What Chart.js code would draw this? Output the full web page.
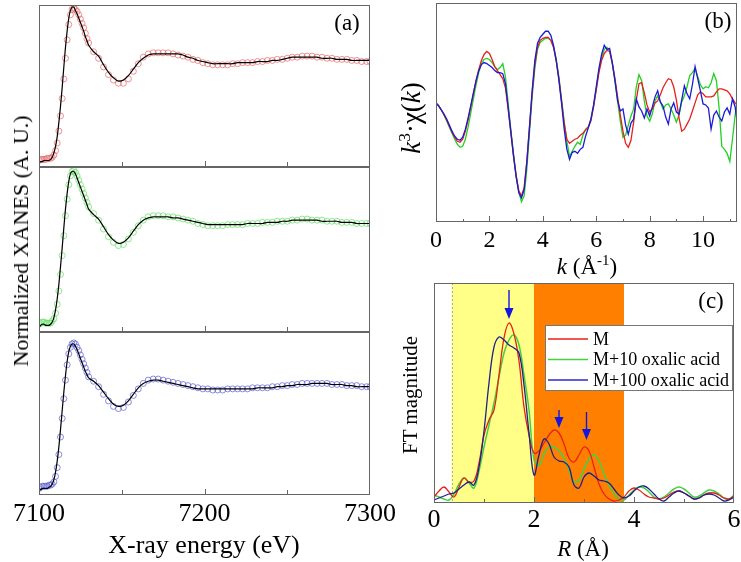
<!DOCTYPE html>
<html>
<head>
<meta charset="utf-8">
<script src="https://cdn.jsdelivr.net/npm/chart.js@4.4.1/dist/chart.umd.min.js"></script>
<style>
  body { margin: 0; background: #fff; }
  #wrap { position: relative; width: 741px; height: 562px; overflow: hidden; font-family: "Liberation Serif", "Times New Roman", serif; color: #000; }
  #wrap canvas { position: absolute; }
  .lbl { position: absolute; white-space: nowrap; transform: translate(-50%, -50%); line-height: 1; }
  .rot { transform: translate(-50%, -50%) rotate(-90deg); }
  sup { font-size: 65%; vertical-align: 0.55em; line-height: 0; }
</style>
</head>
<body>
<div id="wrap">
  <canvas id="a1" width="410" height="172" style="left:0;top:0"></canvas>
  <canvas id="a2" width="410" height="175" style="left:0;top:162px"></canvas>
  <canvas id="a3" width="410" height="235" style="left:0;top:327px"></canvas>
  <canvas id="b" width="341" height="280" style="left:400px;top:0"></canvas>
  <canvas id="c" width="345" height="292" style="left:400px;top:270px"></canvas>

  <div class="lbl" style="left:347px;top:22px;font-size:23px">(a)</div>
  <div class="lbl" style="left:718px;top:20px;font-size:23px">(b)</div>
  <div class="lbl" style="left:711px;top:300px;font-size:23px">(c)</div>
  <div class="lbl" style="left:204px;top:545px;font-size:26px">X-ray energy (eV)</div>
  <div class="lbl rot" style="left:21px;top:241px;font-size:22px">Normalized XANES (A. U.)</div>
  <div class="lbl" style="left:587px;top:266px;font-size:23px"><i>k</i> (Å<sup>-1</sup>)</div>
  <div class="lbl rot" style="left:411px;top:118px;font-size:27px"><i>k</i><sup>3</sup>·χ(<i>k</i>)</div>
  <div class="lbl rot" style="left:410px;top:395px;font-size:21px">FT magnitude</div>
  <div class="lbl" style="left:583px;top:548px;font-size:23px"><i>R</i> (Å)</div>
</div>
<script>
// ---- panel (a): XANES, energy grid (eV)
const energy = [
  7100,7101,7102,7103,7104,7105,7106,7107,7108,7109,
  7110,7111,7112,7113,7114,7115,7116,7117,7118,7119,
  7120,7121,7122,7123,7124,7125,7126,7127,7128,7129,7130,
  7133,7136,7139,7142,7145,7148,7151,7154,7157,7160,
  7163,7166,7169,7172,7175,7178,7181,7184,7187,7190,
  7193,7196,7199,7202,7205,7208,7211,7214,7217,7220,
  7223,7226,7229,7232,7235,7238,7241,7244,7247,7250,
  7253,7256,7259,7262,7265,7268,7271,7274,7277,7280,
  7283,7286,7289,7292,7295,7298,7300
];
const fitM = [
  0.00,0.01,0.01,0.02,0.02,0.02,0.02,0.03,0.05,0.09,
  0.15,0.24,0.37,0.52,0.69,0.88,1.06,1.21,1.33,1.40,
  1.43,1.43,1.40,1.37,1.33,1.29,1.25,1.21,1.16,1.12,1.08,
  1.02,0.98,0.90,0.83,0.78,0.75,0.76,0.80,0.86,0.92,
  0.96,0.99,1.00,1.00,1.00,1.00,1.00,1.00,0.99,0.97,
  0.96,0.94,0.93,0.92,0.91,0.91,0.91,0.91,0.91,0.92,
  0.92,0.92,0.92,0.93,0.93,0.93,0.94,0.94,0.95,0.96,
  0.97,0.97,0.97,0.97,0.97,0.97,0.96,0.96,0.96,0.95,
  0.95,0.95,0.94,0.94,0.94,0.94,0.94
];
const expM = [
  0.02,0.03,0.03,0.03,0.03,0.04,0.04,0.04,0.05,0.07,
  0.11,0.18,0.29,0.43,0.59,0.77,0.96,1.13,1.27,1.36,
  1.41,1.42,1.41,1.39,1.36,1.32,1.28,1.24,1.19,1.14,1.10,
  1.02,0.96,0.88,0.81,0.76,0.73,0.73,0.77,0.84,0.91,
  0.97,1.00,1.01,1.01,1.01,1.01,1.00,0.99,0.98,0.97,
  0.95,0.94,0.92,0.91,0.90,0.90,0.90,0.90,0.91,0.91,
  0.92,0.92,0.92,0.93,0.93,0.94,0.94,0.95,0.95,0.96,
  0.97,0.97,0.98,0.98,0.98,0.97,0.97,0.96,0.96,0.95,
  0.95,0.95,0.94,0.94,0.93,0.93,0.93
];
const fitM10 = [
  0.00,0.02,0.03,0.03,0.02,0.02,0.02,0.03,0.05,0.09,
  0.16,0.26,0.39,0.55,0.72,0.90,1.07,1.21,1.32,1.39,
  1.41,1.41,1.39,1.35,1.31,1.27,1.23,1.19,1.15,1.11,1.07,
  1.02,0.98,0.91,0.84,0.79,0.76,0.77,0.81,0.87,0.93,
  0.97,0.99,1.00,1.00,1.00,1.00,0.99,0.99,0.98,0.97,
  0.96,0.95,0.94,0.93,0.93,0.93,0.93,0.93,0.93,0.93,
  0.93,0.94,0.94,0.94,0.94,0.95,0.95,0.95,0.96,0.96,
  0.97,0.97,0.97,0.97,0.97,0.97,0.96,0.96,0.96,0.96,
  0.95,0.95,0.95,0.94,0.94,0.94,0.94
];
const expM10 = [
  0.03,0.04,0.05,0.05,0.04,0.04,0.04,0.04,0.06,0.08,
  0.13,0.21,0.33,0.48,0.65,0.83,1.01,1.16,1.29,1.37,
  1.41,1.42,1.40,1.37,1.33,1.29,1.25,1.21,1.17,1.13,1.09,
  1.03,0.97,0.89,0.82,0.77,0.74,0.75,0.80,0.86,0.92,
  0.97,1.00,1.01,1.01,1.01,1.00,1.00,0.99,0.98,0.97,
  0.96,0.94,0.93,0.92,0.92,0.92,0.92,0.93,0.93,0.93,
  0.93,0.94,0.94,0.94,0.95,0.95,0.95,0.96,0.96,0.96,
  0.97,0.97,0.98,0.98,0.97,0.97,0.97,0.96,0.96,0.96,
  0.95,0.95,0.95,0.94,0.94,0.94,0.94
];
const fitM100 = [
  0.00,0.01,0.02,0.02,0.02,0.02,0.03,0.04,0.06,0.10,
  0.17,0.27,0.40,0.56,0.73,0.90,1.05,1.18,1.27,1.32,
  1.34,1.34,1.32,1.29,1.25,1.21,1.17,1.13,1.09,1.06,1.03,
  1.00,0.96,0.90,0.84,0.79,0.77,0.78,0.82,0.88,0.94,
  0.98,1.00,1.01,1.01,1.00,0.99,0.98,0.97,0.96,0.95,
  0.94,0.93,0.93,0.93,0.93,0.93,0.93,0.93,0.93,0.93,
  0.93,0.93,0.93,0.94,0.94,0.94,0.94,0.95,0.95,0.96,
  0.96,0.97,0.97,0.97,0.98,0.98,0.98,0.98,0.97,0.97,
  0.97,0.96,0.96,0.95,0.95,0.95,0.95
];
const expM100 = [
  0.02,0.03,0.04,0.04,0.04,0.04,0.05,0.05,0.06,0.08,
  0.13,0.21,0.33,0.49,0.66,0.84,1.01,1.15,1.25,1.31,
  1.34,1.35,1.34,1.31,1.28,1.24,1.20,1.16,1.12,1.08,1.04,
  1.00,0.95,0.88,0.82,0.77,0.75,0.76,0.81,0.87,0.93,
  0.98,1.01,1.02,1.02,1.01,1.00,0.99,0.98,0.97,0.96,
  0.95,0.94,0.93,0.93,0.92,0.92,0.92,0.93,0.93,0.93,
  0.93,0.93,0.94,0.94,0.94,0.94,0.95,0.95,0.96,0.96,
  0.97,0.97,0.98,0.98,0.98,0.98,0.98,0.98,0.97,0.97,
  0.97,0.96,0.96,0.96,0.95,0.95,0.95
];
const energyTickLabels = [7100, 7200, 7300];
const energyTicksMajor = [7200];
const energyTicksMinor = [7150, 7250];

// ---- panel (b): k^3 chi(k), k grid 0..11.3 step 0.1
const kStep = 0.1;
const chiM = [
  0.0,-0.3,-0.7,-1.2,-1.7,-2.3,-2.9,-3.4,-3.8,-3.9,
  -3.6,-2.8,-1.7,-0.4,0.9,2.2,3.3,4.2,4.8,5.1,
  4.9,4.3,3.6,3.2,2.8,2.4,1.5,-0.6,-2.9,-5.2,
  -7.2,-8.7,-9.2,-8.4,-5.8,-2.4,1.0,3.8,5.5,6.2,
  6.4,6.5,6.5,6.2,5.5,4.2,2.4,0.2,-2.0,-3.6,
  -4.0,-3.8,-3.6,-3.5,-3.2,-3.0,-2.7,-2.4,-1.8,-0.4,
  1.3,3.0,4.2,4.9,5.2,5.1,4.0,2.4,0.6,-1.2,
  -2.8,-4.0,-4.4,-3.7,-1.9,0.3,1.9,2.0,1.0,-0.2,
  -0.9,-0.6,0.0,0.2,0.8,1.5,2.0,2.4,2.3,1.6,
  0.3,-1.5,-2.8,-2.6,-2.1,-1.6,-0.8,0.0,0.8,1.1,
  0.9,0.6,0.6,0.6,0.7,1.1,1.4,1.4,1.3,1.2,
  0.9,0.4,0.0,-0.3
];
const chiM10 = [
  0.0,-0.3,-0.7,-1.2,-1.8,-2.4,-3.0,-3.6,-4.1,-4.4,
  -4.3,-3.6,-2.4,-1.0,0.4,1.8,3.0,3.9,4.3,4.4,
  4.3,4.0,3.6,3.3,3.5,3.9,2.6,0.0,-2.6,-5.0,
  -7.2,-8.8,-9.8,-9.2,-6.6,-3.0,0.6,3.4,5.3,6.0,
  6.2,6.4,6.4,6.2,5.6,4.4,2.6,0.4,-1.9,-3.8,
  -5.3,-4.8,-4.3,-3.9,-4.1,-3.2,-2.6,-2.4,-1.6,-0.3,
  1.4,3.2,4.5,5.3,5.5,5.2,3.9,2.2,0.2,-1.8,
  -3.4,-3.2,-2.2,-1.3,-0.6,1.6,2.8,2.2,0.2,-1.3,
  -1.8,-1.1,0.2,0.7,0.1,-0.6,-0.2,-0.1,-0.6,-1.2,
  -1.9,-1.2,0.1,0.7,1.6,2.7,3.0,3.4,2.6,1.8,
  1.4,1.6,1.5,2.0,2.9,2.2,-0.5,-4.3,-4.6,-5.0,
  -5.8,-3.6,-1.2,0.7
];
const chiM100 = [
  0.0,-0.3,-0.7,-1.1,-1.6,-2.2,-2.8,-3.3,-3.6,-3.7,
  -3.4,-2.6,-1.5,-0.3,1.0,2.2,3.2,3.8,4.0,3.9,
  3.7,3.5,3.2,3.0,3.0,2.9,1.9,-0.4,-2.8,-5.2,
  -7.3,-8.9,-9.4,-8.6,-5.9,-2.4,1.2,4.2,5.9,6.5,
  6.8,7.1,7.1,6.7,5.7,4.2,2.3,0.0,-2.6,-4.6,
  -5.6,-4.9,-4.8,-5.0,-4.6,-4.4,-3.3,-2.5,-1.6,-0.2,
  1.6,3.4,4.8,5.7,5.3,5.4,4.0,2.2,0.2,-0.8,
  -0.6,-2.2,-3.1,-2.0,-1.6,0.4,-0.4,-0.8,-1.5,-0.6,
  -1.3,-0.4,0.6,1.2,0.1,-0.3,-1.4,-2.1,-0.6,0.0,
  -0.9,-1.1,0.3,1.7,0.9,0.4,1.8,3.6,2.4,1.2,
  -0.1,-0.2,-0.5,-2.6,-1.2,-0.8,-1.4,-1.8,-0.9,-0.5,
  -1.1,0.4,-0.4,-2.4
];
const kMax = 11.27;
const kTickLabels = [0, 2, 4, 6, 8, 10];
const kTicksMajor = [2, 4, 6, 8, 10];
const kTicksMinor = [1, 3, 5, 7, 9, 11];

// ---- panel (c): FT magnitude, R grid 0..6 step 0.1
const rStep = 0.1;
const ftM = [
  0.6,1.2,1.6,1.1,0.6,1.6,2.5,2.1,2.2,4.0,
  6.8,8.3,9.3,12.8,16.5,18.0,16.9,14.2,9.6,6.8,
  5.0,5.2,6.0,6.8,7.3,7.0,5.9,4.5,4.1,4.8,
  5.6,5.2,3.6,1.9,0.9,0.4,0.2,0.3,0.6,1.2,
  1.5,1.3,0.9,0.6,0.5,0.4,0.5,0.8,1.1,1.2,
  1.0,0.7,0.4,0.5,0.8,1.0,1.0,0.8,0.5,0.4,
  0.7
];
const ftM10 = [
  0.8,0.6,0.4,0.3,0.9,1.9,2.5,2.0,1.5,3.2,
  5.6,7.8,10.0,12.6,15.0,16.3,16.8,15.8,12.8,9.3,
  4.3,3.8,4.9,5.6,5.6,5.2,4.5,3.3,2.1,2.3,
  3.4,4.4,4.8,4.2,2.9,1.8,0.9,0.4,0.3,0.8,
  1.3,1.6,1.5,1.1,0.6,0.4,0.6,1.0,1.4,1.6,
  1.4,1.0,0.6,0.7,1.0,1.3,1.2,0.9,0.5,0.4,
  0.8
];
const ftM100 = [
  0.3,0.5,0.7,0.9,1.0,1.4,1.8,2.1,1.8,3.6,
  7.2,12.0,15.6,16.6,16.3,15.8,15.5,15.0,11.8,7.0,
  2.8,4.8,6.4,5.9,4.6,4.2,4.1,3.6,1.8,1.5,
  2.6,3.0,2.7,2.3,2.2,2.0,1.4,0.8,0.5,0.7,
  1.2,1.6,1.7,1.4,0.9,0.4,0.2,0.6,1.0,1.2,
  1.0,0.7,0.4,0.5,0.8,0.9,0.8,0.5,0.2,0.3,
  0.6
];
const rTickLabels = [0, 2, 4, 6];
const rTicksMajor = [2, 4];
const rTicksMinor = [1, 3, 5];
const shellRanges = [[0.35, 2.0], [2.0, 3.8]];
const arrowR = [1.5, 2.5, 3.05];
const arrowTail = [21.3, 9.3, 9.1];
const arrowTip = [18.4, 7.5, 6.3];
const seriesNames = ['M', 'M+10 oxalic acid', 'M+100 oxalic acid'];

const SERIF = "'Liberation Serif', 'Times New Roman', serif";
Chart.defaults.font.family = SERIF;
Chart.defaults.color = '#000';

function pts(xs, ys) { return ys.map((y, i) => ({ x: xs[i], y })); }
function grid(step, n) { return Array.from({ length: n }, (_, i) => +(i * step).toFixed(2)); }

// frame, inner tick marks, tick labels and shaded R ranges
const framePlugin = {
  id: 'frame',
  beforeDatasetsDraw(chart, args, opts) {
    const { ctx, chartArea: a, scales: { x } } = chart;
    const bands = opts.bands || [];
    ctx.save();
    bands.forEach((b, i) => {
      const x0 = x.getPixelForValue(b[0]), x1 = x.getPixelForValue(b[1]);
      ctx.fillStyle = opts.bandColors[i];
      ctx.fillRect(x0, a.top, x1 - x0, a.height);
      if (i === 0) {
        ctx.setLineDash([2, 2]);
        ctx.strokeStyle = '#aaa';
        ctx.beginPath();
        ctx.moveTo(Math.round(x0) + 0.5, a.top);
        ctx.lineTo(Math.round(x0) + 0.5, a.bottom);
        ctx.stroke();
      }
    });
    ctx.restore();
  },
  afterDatasetsDraw(chart, args, opts) {
    const { ctx, chartArea: a, scales: { x } } = chart;
    ctx.save();
    ctx.strokeStyle = '#666';
    ctx.lineWidth = 1;
    ctx.strokeRect(a.left + 0.5, a.top + 0.5, a.width - 1, a.height - 1);
    ctx.beginPath();
    (opts.major || []).forEach(v => {
      const p = Math.round(x.getPixelForValue(v)) + 0.5;
      ctx.moveTo(p, a.bottom); ctx.lineTo(p, a.bottom - 6);
    });
    (opts.minor || []).forEach(v => {
      const p = Math.round(x.getPixelForValue(v)) + 0.5;
      ctx.moveTo(p, a.bottom); ctx.lineTo(p, a.bottom - (opts.minorLen || 4));
    });
    ctx.stroke();
    if (opts.labels) {
      ctx.fillStyle = '#000';
      ctx.font = opts.labelSize + 'px ' + SERIF;
      ctx.textAlign = 'center';
      ctx.textBaseline = 'middle';
      opts.labels.forEach(v => ctx.fillText(String(v), x.getPixelForValue(v), a.bottom + opts.labelOffset));
    }
    ctx.restore();
  }
};

const arrowPlugin = {
  id: 'arrows',
  afterDatasetsDraw(chart, args, opts) {
    if (!opts.r) return;
    const { ctx, scales: { x, y } } = chart;
    ctx.save();
    ctx.strokeStyle = opts.color; ctx.fillStyle = opts.color; ctx.lineWidth = 1.4;
    opts.r.forEach((r, i) => {
      const px = x.getPixelForValue(r), y0 = y.getPixelForValue(opts.from[i]), y1 = y.getPixelForValue(opts.to[i]);
      ctx.beginPath(); ctx.moveTo(px, y0); ctx.lineTo(px, y1 - 8); ctx.stroke();
      ctx.beginPath(); ctx.moveTo(px - 4.5, y1 - 11); ctx.lineTo(px + 4.5, y1 - 11); ctx.lineTo(px, y1); ctx.closePath(); ctx.fill();
    });
    ctx.restore();
  }
};

const boxLegendPlugin = {
  id: 'boxLegend',
  afterDatasetsDraw(chart, args, opts) {
    if (!opts.show) return;
    const { ctx, chartArea: a } = chart;
    const x0 = a.right - opts.width - 2, y0 = a.top + opts.top;
    ctx.save();
    ctx.fillStyle = '#fff';
    ctx.fillRect(x0, y0, opts.width, opts.height);
    ctx.strokeStyle = '#777'; ctx.lineWidth = 1;
    ctx.strokeRect(Math.round(x0) + 0.5, Math.round(y0) + 0.5, opts.width, opts.height);
    ctx.font = '18px ' + SERIF;
    ctx.textBaseline = 'middle';
    chart.data.datasets.forEach((ds, i) => {
      const yy = y0 + opts.first + i * opts.row;
      ctx.strokeStyle = ds.legendColor || ds.borderColor; ctx.lineWidth = 1.3;
      ctx.beginPath(); ctx.moveTo(x0 + 3, yy); ctx.lineTo(x0 + 43, yy); ctx.stroke();
      ctx.fillStyle = '#000';
      ctx.fillText(ds.label, x0 + 48, yy + 1);
    });
    ctx.restore();
  }
};

const plugins = [framePlugin, arrowPlugin, boxLegendPlugin];

function xanesChart(id, fit, exp, circleColor, showAxis, pad) {
  const xScale = {
    type: 'linear', min: 7100, max: 7300, display: showAxis,
    grid: { display: false }, border: { display: false },
    ticks: { display: false, stepSize: 100 }
  };
  if (showAxis) xScale.afterFit = s => { s.height = 67; };
  const frame = { major: energyTicksMajor, minor: energyTicksMinor, minorLen: 5 };
  if (showAxis) Object.assign(frame, { labels: energyTickLabels, labelSize: 26, labelOffset: 19 });
  return new Chart(document.getElementById(id), {
    type: 'line',
    data: {
      datasets: [
        { data: pts(energy, fit), borderColor: '#000', borderWidth: 1.2, pointRadius: 0, tension: 0.3 },
        { data: pts(energy, exp), showLine: false, pointRadius: 3, pointBorderWidth: 0.8,
          pointBorderColor: circleColor, pointBackgroundColor: 'rgba(0,0,0,0)' }
      ]
    },
    options: {
      responsive: false, animation: false,
      layout: { padding: pad },
      scales: {
        x: xScale,
        y: { display: false, min: -0.04, max: 1.45 }
      },
      plugins: {
        legend: { display: false }, tooltip: { enabled: false },
        frame
      }
    },
    plugins
  });
}

xanesChart('a1', fitM, expM, 'rgba(232,105,105,0.9)', false, { left: 39, right: 40, top: 5, bottom: 5 });
xanesChart('a2', fitM10, expM10, 'rgba(100,225,100,0.9)', false, { left: 39, right: 40, top: 5, bottom: 5 });
xanesChart('a3', fitM100, expM100, 'rgba(95,95,215,0.9)', true, { left: 39, right: 40, top: 5, bottom: 0 });

const kGrid = grid(kStep, chiM.length);
new Chart(document.getElementById('b'), {
  type: 'line',
  data: {
    datasets: [
      { data: pts(kGrid, chiM100), borderColor: '#1a1ad8', borderWidth: 1.3, pointRadius: 0 },
      { data: pts(kGrid, chiM), borderColor: '#e8201a', borderWidth: 1.3, pointRadius: 0 },
      { data: pts(kGrid, chiM10), borderColor: '#22d022', borderWidth: 1.3, pointRadius: 0 }
    ]
  },
  options: {
    responsive: false, animation: false,
    layout: { padding: { left: 36, right: 4, top: 3, bottom: 0 } },
    scales: {
      x: {
        type: 'linear', min: 0, max: kMax,
        grid: { display: false }, border: { display: false },
        ticks: { display: false, stepSize: 2 },
        afterFit: s => { s.height = 58; }
      },
      y: { display: false, min: -11.8, max: 9.9 }
    },
    plugins: {
      legend: { display: false }, tooltip: { enabled: false },
      frame: { major: kTicksMajor, minor: kTicksMinor, minorLen: 3, labels: kTickLabels, labelSize: 24, labelOffset: 19 }
    }
  },
  plugins
});

const rGrid = grid(rStep, ftM.length);
new Chart(document.getElementById('c'), {
  type: 'line',
  data: {
    datasets: [
      { label: seriesNames[0], data: pts(rGrid, ftM), borderColor: '#e8201a', borderWidth: 1.3, pointRadius: 0, tension: 0.4, order: 1 },
      { label: seriesNames[1], data: pts(rGrid, ftM10), borderColor: '#44d044', borderWidth: 1.5, pointRadius: 0, tension: 0.4, order: 2 },
      { label: seriesNames[2], data: pts(rGrid, ftM100), borderColor: '#20208a', legendColor: '#2a2ad0', borderWidth: 1.3, pointRadius: 0, tension: 0.4, order: 0 }
    ]
  },
  options: {
    responsive: false, animation: false,
    layout: { padding: { left: 34, right: 11, top: 13, bottom: 0 } },
    scales: {
      x: {
        type: 'linear', min: 0, max: 6,
        grid: { display: false }, border: { display: false },
        ticks: { display: false, stepSize: 2 },
        afterFit: s => { s.height = 59; }
      },
      y: { display: false, min: 0, max: 22 }
    },
    plugins: {
      legend: { display: false }, tooltip: { enabled: false },
      frame: { major: rTicksMajor, minor: rTicksMinor, minorLen: 4, bands: shellRanges, bandColors: ['#ffff88', '#ff8000'],
               labels: rTickLabels, labelSize: 26, labelOffset: 17 },
      arrows: { r: arrowR, from: arrowTail, to: arrowTip, color: '#1515e0' },
      boxLegend: { show: true, width: 187, height: 65, top: 42, first: 14, row: 20.5 }
    }
  },
  plugins
});
</script>
</body>
</html>
